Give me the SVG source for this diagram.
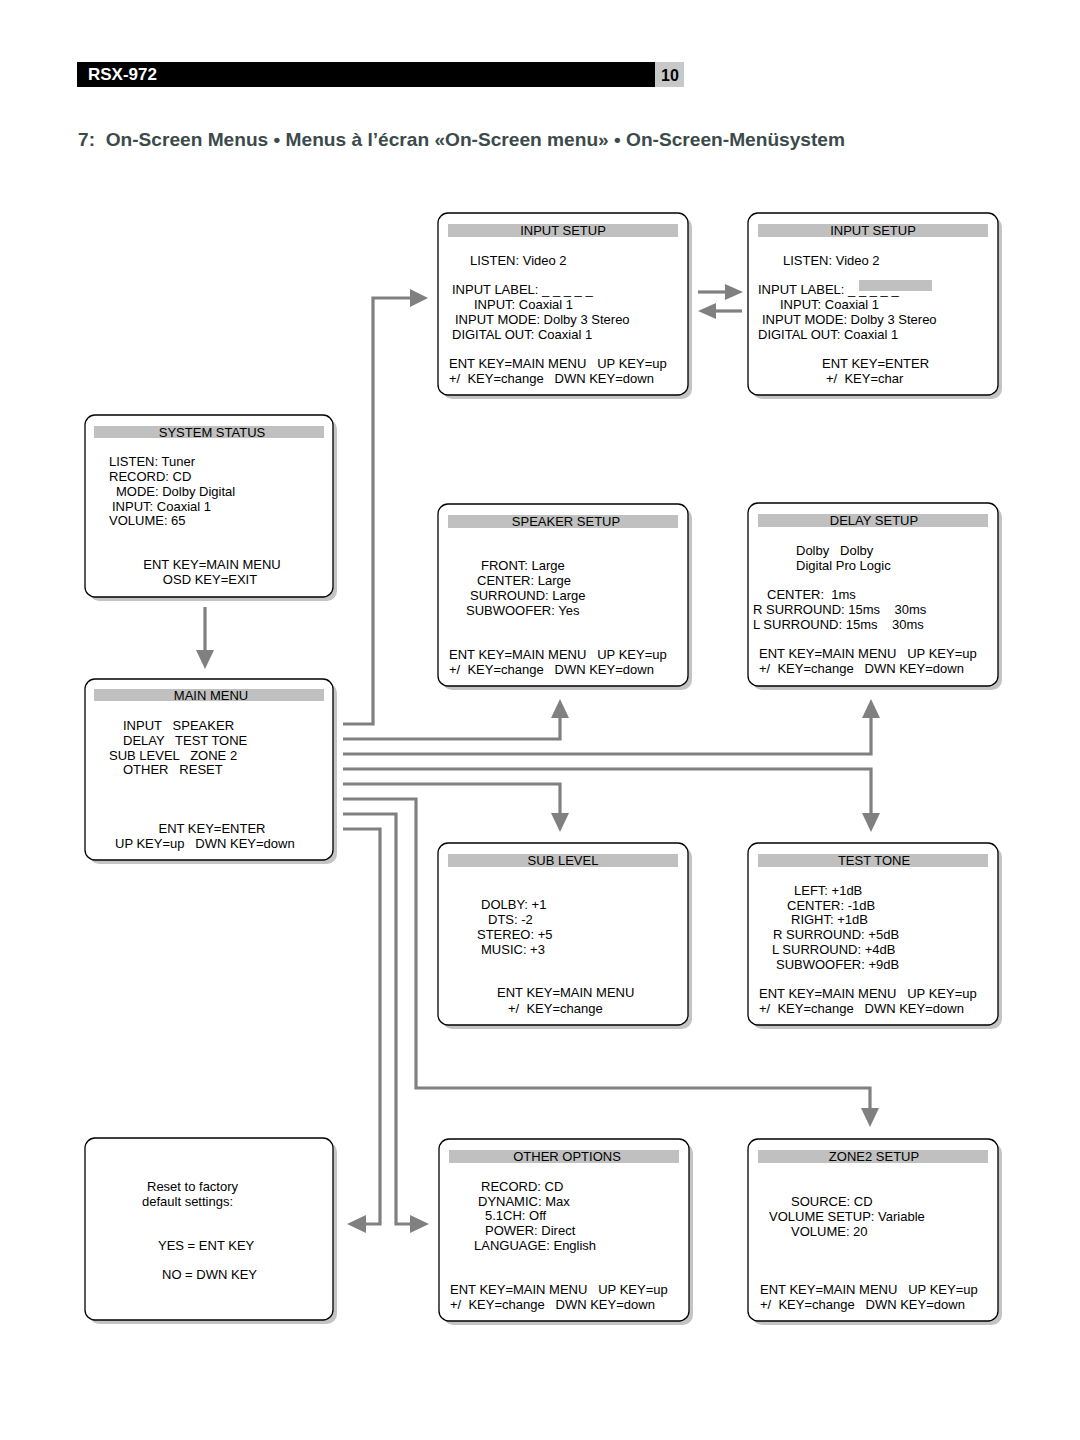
<svg xmlns="http://www.w3.org/2000/svg" width="1080" height="1440" viewBox="0 0 1080 1440">
<defs>
<style>
text{font-family:"Liberation Sans",Arial,sans-serif;font-size:13px;fill:#000;white-space:pre}
.c{text-anchor:middle}
.box{fill:#fff;stroke:#000;stroke-width:1.3}
.sh{fill:#c4c4c4}
.bar{fill:#c0c0c0}
.con{fill:none;stroke:#808080;stroke-width:3.2;stroke-linejoin:miter}
.ah{fill:#808080}
</style>
</defs>
<rect width="1080" height="1440" fill="#fff"/>
<g id="header">
<rect x="77" y="62" width="578" height="25" fill="#000"/>
<rect x="655" y="62" width="29" height="25" fill="#c8c8c8"/>
<text x="88" y="80" style="font-size:17px;font-weight:bold;fill:#fff">RSX-972</text>
<text x="670" y="81" class="c" style="font-size:16px;font-weight:bold">10</text>
<text x="78" y="146" textLength="767" lengthAdjust="spacingAndGlyphs" style="font-size:19px;font-weight:bold;fill:#3b4a4a">7:  On-Screen Menus • Menus à l’écran «On-Screen menu» • On-Screen-Menüsystem</text>
</g>
<g id="connectors">
<polyline class="con" points="343,724 373,724 373,298 414,298"/>
<polygon class="ah" points="428,298 410,289 410,307"/>
<polyline class="con" points="343,739 560,739 560,714"/>
<polygon class="ah" points="560,699 551,718 569,718"/>
<polyline class="con" points="343,754 871,754 871,714"/>
<polygon class="ah" points="871,699 862,718 880,718"/>
<polyline class="con" points="343,769 871,769 871,817"/>
<polygon class="ah" points="871,832 862,813 880,813"/>
<polyline class="con" points="343,784 560,784 560,817"/>
<polygon class="ah" points="560,832 551,813 569,813"/>
<polyline class="con" points="343,799 416,799 416,1088 870,1088 870,1112"/>
<polygon class="ah" points="870,1127 861,1108 879,1108"/>
<polyline class="con" points="343,814 396,814 396,1224 414,1224"/>
<polygon class="ah" points="429,1224 410,1215 410,1233"/>
<polyline class="con" points="343,829 380,829 380,1224 362,1224"/>
<polygon class="ah" points="347,1224 366,1215 366,1233"/>
<line class="con" x1="205" y1="607" x2="205" y2="654"/>
<polygon class="ah" points="205,669 196,650 214,650"/>
<line class="con" x1="698" y1="292" x2="728" y2="292"/>
<polygon class="ah" points="743,292 725,284 725,300"/>
<line class="con" x1="742" y1="311" x2="713" y2="311"/>
<polygon class="ah" points="698,311 716,303 716,319"/>
</g>
<g id="input-setup-1">
<rect class="sh" x="442" y="217" width="250" height="182" rx="10"/>
<rect class="box" x="438" y="213" width="250" height="182" rx="10"/>
<rect class="bar" x="448" y="224" width="230" height="13"/>
<text x="563" y="235" class="c">INPUT SETUP</text>
<text x="470" y="265">LISTEN: Video 2</text>
<text x="452" y="294">INPUT LABEL: _ _ _ _ _</text>
<text x="474" y="309">INPUT: Coaxial 1</text>
<text x="455" y="324">INPUT MODE: Dolby 3 Stereo</text>
<text x="452" y="339">DIGITAL OUT: Coaxial 1</text>
<text x="449" y="368">ENT KEY=MAIN MENU   UP KEY=up</text>
<text x="449" y="383">+/  KEY=change   DWN KEY=down</text>
</g>
<g id="input-setup-2">
<rect class="sh" x="752" y="217" width="250" height="182" rx="10"/>
<rect class="box" x="748" y="213" width="250" height="182" rx="10"/>
<rect class="bar" x="758" y="224" width="230" height="13"/>
<text x="873" y="235" class="c">INPUT SETUP</text>
<text x="783" y="265">LISTEN: Video 2</text>
<text x="758" y="294">INPUT LABEL: _ _ _ _ _</text>
<rect class="bar" x="859" y="280" width="73" height="11"/>
<text x="780" y="309">INPUT: Coaxial 1</text>
<text x="762" y="324">INPUT MODE: Dolby 3 Stereo</text>
<text x="758" y="339">DIGITAL OUT: Coaxial 1</text>
<text x="822" y="368">ENT KEY=ENTER</text>
<text x="826" y="383">+/  KEY=char</text>
</g>
<g id="system-status">
<rect class="sh" x="89" y="419" width="248" height="182" rx="10"/>
<rect class="box" x="85" y="415" width="248" height="182" rx="10"/>
<rect class="bar" x="94" y="426" width="230" height="12"/>
<text x="212" y="437" class="c">SYSTEM STATUS</text>
<text x="109" y="466">LISTEN: Tuner</text>
<text x="109" y="481">RECORD: CD</text>
<text x="116" y="496">MODE: Dolby Digital</text>
<text x="112" y="511">INPUT: Coaxial 1</text>
<text x="109" y="525">VOLUME: 65</text>
<text x="212" y="569" class="c">ENT KEY=MAIN MENU</text>
<text x="210" y="584" class="c">OSD KEY=EXIT</text>
</g>
<g id="main-menu">
<rect class="sh" x="89" y="683" width="248" height="181" rx="10"/>
<rect class="box" x="85" y="679" width="248" height="181" rx="10"/>
<rect class="bar" x="94" y="689" width="230" height="12"/>
<text x="211" y="700" class="c">MAIN MENU</text>
<text x="123" y="730">INPUT   SPEAKER</text>
<text x="123" y="745">DELAY   TEST TONE</text>
<text x="109" y="760">SUB LEVEL   ZONE 2</text>
<text x="123" y="774">OTHER   RESET</text>
<text x="212" y="833" class="c">ENT KEY=ENTER</text>
<text x="115" y="848">UP KEY=up   DWN KEY=down</text>
</g>
<g id="speaker-setup">
<rect class="sh" x="442" y="508" width="250" height="182" rx="10"/>
<rect class="box" x="438" y="504" width="250" height="182" rx="10"/>
<rect class="bar" x="448" y="515" width="230" height="13"/>
<text x="566" y="526" class="c">SPEAKER SETUP</text>
<text x="481" y="570">FRONT: Large</text>
<text x="477" y="585">CENTER: Large</text>
<text x="470" y="600">SURROUND: Large</text>
<text x="466" y="615">SUBWOOFER: Yes</text>
<text x="449" y="659">ENT KEY=MAIN MENU   UP KEY=up</text>
<text x="449" y="674">+/  KEY=change   DWN KEY=down</text>
</g>
<g id="delay-setup">
<rect class="sh" x="752" y="507" width="250" height="183" rx="10"/>
<rect class="box" x="748" y="503" width="250" height="183" rx="10"/>
<rect class="bar" x="758" y="514" width="230" height="13"/>
<text x="874" y="525" class="c">DELAY SETUP</text>
<text x="796" y="555">Dolby   Dolby</text>
<text x="796" y="570">Digital Pro Logic</text>
<text x="767" y="599">CENTER:  1ms</text>
<text x="753" y="614">R SURROUND: 15ms    30ms</text>
<text x="753" y="629">L SURROUND: 15ms    30ms</text>
<text x="759" y="658">ENT KEY=MAIN MENU   UP KEY=up</text>
<text x="759" y="673">+/  KEY=change   DWN KEY=down</text>
</g>
<g id="sub-level">
<rect class="sh" x="442" y="847" width="250" height="182" rx="10"/>
<rect class="box" x="438" y="843" width="250" height="182" rx="10"/>
<rect class="bar" x="448" y="854" width="230" height="13"/>
<text x="563" y="865" class="c">SUB LEVEL</text>
<text x="481" y="909">DOLBY: +1</text>
<text x="488" y="924">DTS: -2</text>
<text x="477" y="939">STEREO: +5</text>
<text x="481" y="954">MUSIC: +3</text>
<text x="497" y="997">ENT KEY=MAIN MENU</text>
<text x="508" y="1013">+/  KEY=change</text>
</g>
<g id="test-tone">
<rect class="sh" x="752" y="847" width="250" height="182" rx="10"/>
<rect class="box" x="748" y="843" width="250" height="182" rx="10"/>
<rect class="bar" x="758" y="854" width="230" height="13"/>
<text x="874" y="865" class="c">TEST TONE</text>
<text x="794" y="895">LEFT: +1dB</text>
<text x="787" y="910">CENTER: -1dB</text>
<text x="791" y="924">RIGHT: +1dB</text>
<text x="773" y="939">R SURROUND: +5dB</text>
<text x="772" y="954">L SURROUND: +4dB</text>
<text x="776" y="969">SUBWOOFER: +9dB</text>
<text x="759" y="998">ENT KEY=MAIN MENU   UP KEY=up</text>
<text x="759" y="1013">+/  KEY=change   DWN KEY=down</text>
</g>
<g id="reset">
<rect class="sh" x="89" y="1142" width="248" height="182" rx="10"/>
<rect class="box" x="85" y="1138" width="248" height="182" rx="10"/>
<text x="147" y="1191">Reset to factory</text>
<text x="142" y="1206">default settings:</text>
<text x="158" y="1250">YES = ENT KEY</text>
<text x="162" y="1279">NO = DWN KEY</text>
</g>
<g id="other-options">
<rect class="sh" x="443" y="1143" width="250" height="182" rx="10"/>
<rect class="box" x="439" y="1139" width="250" height="182" rx="10"/>
<rect class="bar" x="449" y="1150" width="230" height="13"/>
<text x="567" y="1161" class="c">OTHER OPTIONS</text>
<text x="481" y="1191">RECORD: CD</text>
<text x="478" y="1206">DYNAMIC: Max</text>
<text x="485" y="1220">5.1CH: Off</text>
<text x="485" y="1235">POWER: Direct</text>
<text x="474" y="1250">LANGUAGE: English</text>
<text x="450" y="1294">ENT KEY=MAIN MENU   UP KEY=up</text>
<text x="450" y="1309">+/  KEY=change   DWN KEY=down</text>
</g>
<g id="zone2-setup">
<rect class="sh" x="752" y="1143" width="250" height="182" rx="10"/>
<rect class="box" x="748" y="1139" width="250" height="182" rx="10"/>
<rect class="bar" x="758" y="1150" width="230" height="13"/>
<text x="874" y="1161" class="c">ZONE2 SETUP</text>
<text x="791" y="1206">SOURCE: CD</text>
<text x="769" y="1221">VOLUME SETUP: Variable</text>
<text x="791" y="1236">VOLUME: 20</text>
<text x="760" y="1294">ENT KEY=MAIN MENU   UP KEY=up</text>
<text x="760" y="1309">+/  KEY=change   DWN KEY=down</text>
</g>
</svg>
